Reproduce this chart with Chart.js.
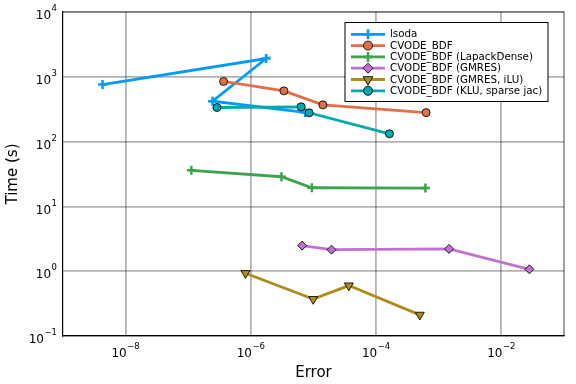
<!DOCTYPE html>
<html>
<head>
<meta charset="utf-8">
<script src="https://cdn.jsdelivr.net/npm/chart.js@4"></script>
<style>
  body { margin: 0; background: #fff; }
  canvas { display: block; }
</style>
</head>
<body>
<canvas id="chart" width="576" height="384"></canvas>
<script>
// work-precision data
const seriesNames = ['lsoda', 'CVODE_BDF', 'CVODE_BDF (LapackDense)', 'CVODE_BDF (GMRES)', 'CVODE_BDF (GMRES, iLU)', 'CVODE_BDF (KLU, sparse jac)'];

const errLsoda = [4.28e-9, 1.75e-6, 2.44e-7, 7.36e-6];
const timeLsoda = [760, 1914, 421, 282];

const errBDF = [3.66e-7, 3.37e-6, 1.41e-5, 6.28e-4];
const timeBDF = [847, 607, 369, 280];

const errDense = [1.12e-7, 3.08e-6, 9.42e-6, 6.12e-4];
const timeDense = [36.0, 28.7, 19.4, 19.2];

const errGMRES = [6.59e-6, 1.94e-5, 1.46e-3, 0.028];
const timeGMRES = [2.48, 2.15, 2.21, 1.07];

const errILU = [8.2e-7, 9.9e-6, 3.67e-5, 4.98e-4];
const timeILU = [0.931, 0.371, 0.600, 0.212];

const errKLU = [2.87e-7, 6.35e-6, 8.53e-6, 1.63e-4];
const timeKLU = [336, 344, 278, 132];

const xTickExps = [-8, -6, -4, -2];
const yTickExps = [-1, 0, 1, 2, 3, 4];

const colors = ['#009AFA', '#E26F46', '#3DA44D', '#C271D2', '#AC8D18', '#00A9AD'];
const markers = [
    { style: 'cross', radius: 4.5, rotation: 0 },
    { style: 'circle', radius: 4, rotation: 0 },
    { style: 'cross', radius: 4.5, rotation: 0 },
    { style: 'rectRot', radius: 4.5, rotation: 0 },
    { style: 'triangle', radius: 5.2, rotation: 180 },
    { style: 'circle', radius: 4, rotation: 0 }
];

const allErr = [errLsoda, errBDF, errDense, errGMRES, errILU, errKLU];
const allTime = [timeLsoda, timeBDF, timeDense, timeGMRES, timeILU, timeKLU];

const FONT = '"DejaVu Sans", sans-serif';

function makeDataset(i) {
    const m = markers[i];
    const isCross = m.style === 'cross';
    return {
        label: seriesNames[i],
        data: allErr[i].map((e, k) => ({ x: e, y: allTime[i][k] })),
        showLine: true,
        borderColor: colors[i],
        backgroundColor: colors[i],
        borderWidth: 2.8,
        tension: 0,
        pointStyle: m.style,
        pointRadius: m.radius,
        pointRotation: m.rotation,
        pointBackgroundColor: colors[i],
        pointBorderColor: isCross ? colors[i] : 'rgba(0,0,0,0.85)',
        pointBorderWidth: isCross ? 2.5 : 1,
        order: -i
    };
}

// "10" with a raised exponent, like the GR tick labels
function drawPow(ctx, exp, x, y, align) {
    const base = '10';
    const sup = exp < 0 ? '\u2212' + Math.abs(exp) : String(exp);
    ctx.font = '12px ' + FONT;
    const wb = ctx.measureText(base).width;
    ctx.font = '8.5px ' + FONT;
    const ws = ctx.measureText(sup).width;
    const total = wb + ws + 0.5;
    let left = align === 'right' ? x - total : x - total / 2;
    ctx.fillStyle = '#000';
    ctx.textBaseline = 'middle';
    ctx.textAlign = 'left';
    ctx.font = '12px ' + FONT;
    ctx.fillText(base, left, y + 4);
    ctx.font = '8.5px ' + FONT;
    ctx.fillText(sup, left + wb + 0.5, y - 3);
}

const decorPlugin = {
    id: 'decor',
    afterDraw(chart) {
        const ctx = chart.ctx;
        const area = chart.chartArea;
        const xs = chart.scales.x;
        const ys = chart.scales.y;
        ctx.save();

        // top and right frame
        ctx.strokeStyle = 'rgba(0,0,0,0.6)';
        ctx.lineWidth = 1.2;
        ctx.beginPath();
        ctx.moveTo(area.left, area.top);
        ctx.lineTo(area.right, area.top);
        ctx.lineTo(area.right, area.bottom);
        ctx.stroke();

        // tick labels
        xTickExps.forEach(e => drawPow(ctx, e, xs.getPixelForValue(Math.pow(10, e)), area.bottom + 14, 'center'));
        yTickExps.forEach(e => drawPow(ctx, e, area.left - 6, ys.getPixelForValue(Math.pow(10, e)), 'right'));

        // axis titles
        ctx.fillStyle = '#000';
        ctx.font = '15px ' + FONT;
        ctx.textAlign = 'center';
        ctx.textBaseline = 'middle';
        ctx.fillText('Error', (area.left + area.right) / 2, 373);
        ctx.save();
        ctx.translate(13, (area.top + area.bottom) / 2);
        ctx.rotate(-Math.PI / 2);
        ctx.fillText('Time (s)', 0, 0);
        ctx.restore();

        // legend box
        const bx = 345, by = 22.5, bw = 203, bh = 79;
        ctx.fillStyle = '#fff';
        ctx.fillRect(bx, by, bw, bh);
        ctx.strokeStyle = '#000';
        ctx.lineWidth = 1;
        ctx.strokeRect(bx, by, bw, bh);
        ctx.font = '10.3px ' + FONT;
        chart.data.datasets.forEach((ds, i) => {
            const ly = 34.3 + i * 11.3;
            ctx.strokeStyle = ds.borderColor;
            ctx.lineWidth = 2.8;
            ctx.beginPath();
            ctx.moveTo(351, ly);
            ctx.lineTo(385, ly);
            ctx.stroke();
            ctx.fillStyle = ds.pointBackgroundColor;
            ctx.strokeStyle = ds.pointBorderColor;
            ctx.lineWidth = ds.pointBorderWidth;
            Chart.helpers.drawPoint(ctx, {
                pointStyle: ds.pointStyle,
                radius: ds.pointRadius + 0.5,
                rotation: ds.pointRotation,
                borderWidth: ds.pointBorderWidth
            }, 368, ly);
            ctx.fillStyle = '#000';
            ctx.textAlign = 'left';
            ctx.textBaseline = 'middle';
            ctx.fillText(ds.label, 390, ly + 0.5);
        });
        ctx.restore();
    }
};

const gridStyle = { color: 'rgba(0,0,0,0.3)', lineWidth: 1.8, drawTicks: false };

new Chart(document.getElementById('chart').getContext('2d'), {
    type: 'scatter',
    data: { datasets: seriesNames.map((_, i) => makeDataset(i)) },
    options: {
        responsive: false,
        animation: false,
        layout: { padding: { top: 12, right: 12, left: 0, bottom: 0 } },
        scales: {
            x: {
                type: 'logarithmic',
                min: 1e-9,
                max: 1e-1,
                afterBuildTicks: s => { s.ticks = xTickExps.map(e => ({ value: Math.pow(10, e) })); },
                afterFit: s => { s.height = 48; },
                ticks: { display: false },
                grid: gridStyle,
                border: { display: true, color: '#000', width: 1.2 }
            },
            y: {
                type: 'logarithmic',
                min: 0.1,
                max: 1e4,
                afterBuildTicks: s => { s.ticks = yTickExps.map(e => ({ value: Math.pow(10, e) })); },
                afterFit: s => { s.width = 63; },
                ticks: { display: false },
                grid: gridStyle,
                border: { display: true, color: '#000', width: 1.2 }
            }
        },
        plugins: {
            legend: { display: false },
            tooltip: { enabled: false }
        }
    },
    plugins: [decorPlugin]
});
</script>
</body>
</html>
